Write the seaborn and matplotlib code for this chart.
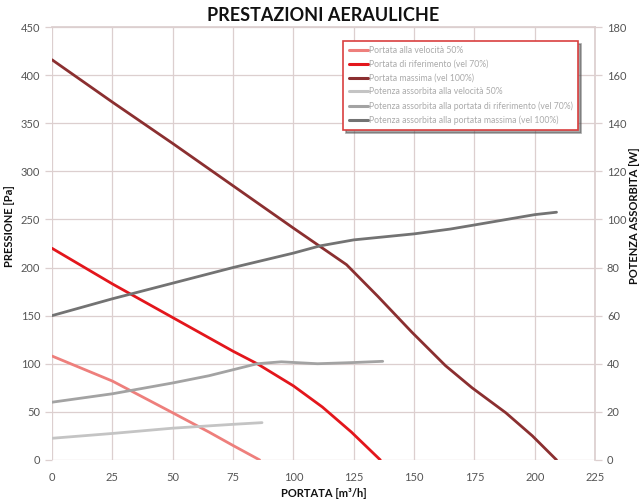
import matplotlib
matplotlib.use("Agg")
import matplotlib.pyplot as plt
import seaborn as sns
import pandas as pd
from matplotlib.lines import Line2D

sns.set_theme(style="white")
plt.rcParams['font.family'] = ['Lato', 'DejaVu Sans']

# --- Data (pressure curves, Pa, left axis) ---
p50_x = [0, 25, 50, 65, 75, 86]
p50_y = [108, 82, 49, 29, 15, 0]

p70_x = [0, 25, 50, 75, 85, 100, 112, 124, 136]
p70_y = [220, 183, 148, 113, 100, 77, 55, 29, 0]

p100_x = [0, 25, 50, 75, 100, 111, 122, 135, 149, 163, 174, 188, 199, 209]
p100_y = [416, 372, 329, 285, 241, 222, 203, 170, 133, 98, 75, 49, 25, 0]

# --- Data (power curves, W, right axis) ---
w50_x = [0, 25, 50, 75, 87]
w50_y = [9, 11, 13.2, 14.8, 15.5]

w70_x = [0, 25, 50, 65, 75, 85, 95, 110, 125, 137]
w70_y = [24, 27.5, 32, 35, 37.5, 40, 40.8, 40, 40.5, 41]

w100_x = [0, 25, 50, 75, 100, 111, 125, 150, 165, 175, 200, 209]
w100_y = [60, 67, 73.5, 80, 86, 89, 91.5, 94, 96, 97.7, 102, 103]

labels = [
    "Portata alla velocità 50%",
    "Portata di riferimento (vel 70%)",
    "Portata massima (vel 100%)",
    "Potenza assorbita alla velocità 50%",
    "Potenza assorbita alla portata di riferimento (vel 70%)",
    "Potenza assorbita alla portata massima (vel 100%)",
]
colors = ["#ee7f7c", "#e3161c", "#8b2f30", "#c4c4c4", "#a3a3a3", "#737373"]

x_ticks = [0, 25, 50, 75, 100, 125, 150, 175, 200, 225]
left_ticks = [0, 50, 100, 150, 200, 250, 300, 350, 400, 450]
right_ticks = [0, 20, 40, 60, 80, 100, 120, 140, 160, 180]

fig = plt.figure(figsize=(6.42, 5.01), dpi=100)
ax = fig.add_axes([0.081, 0.082, 0.846, 0.864])
ax2 = ax.twinx()

lw = 2.0
for xs, ys, c in [(p50_x, p50_y, colors[0]), (p70_x, p70_y, colors[1]), (p100_x, p100_y, colors[2])]:
    sns.lineplot(x=xs, y=ys, ax=ax, color=c, linewidth=lw, sort=False)
for xs, ys, c in [(w50_x, w50_y, colors[3]), (w70_x, w70_y, colors[4]), (w100_x, w100_y, colors[5])]:
    sns.lineplot(x=xs, y=ys, ax=ax2, color=c, linewidth=lw, sort=False)

ax.set_xlim(0, 225)
ax.set_ylim(0, 450)
ax2.set_ylim(0, 180)
ax.set_xticks(x_ticks)
ax.set_yticks(left_ticks)
ax2.set_yticks(right_ticks)

grid_c = "#dccfcf"
ax.grid(True, color=grid_c, linewidth=0.9)
ax.set_axisbelow(True)
for a in (ax, ax2):
    for s in a.spines.values():
        s.set_visible(False)
ax.spines['right'].set_visible(True)
ax.spines['right'].set_color(grid_c)
ax.spines['top'].set_visible(True)
ax.spines['top'].set_color(grid_c)

tick_kw = dict(labelsize=8, labelcolor="#555555", color=grid_c, length=5, width=0.9)
ax.tick_params(axis='both', **tick_kw)
ax2.tick_params(axis='y', **tick_kw)

ax.set_title("PRESTAZIONI AERAULICHE", fontsize=13, fontweight='bold', color="#111111", pad=4)
ax.set_xlabel("PORTATA [m³/h]", fontsize=8, fontweight='bold', color="#111111", labelpad=4)
ax.set_ylabel("PRESSIONE [Pa]", fontsize=8, fontweight='bold', color="#111111")
ax2.set_ylabel("POTENZA ASSORBITA [W]", fontsize=8, fontweight='bold', color="#111111")
ax.yaxis.set_label_coords(-0.068, 0.54)
ax2.yaxis.set_label_coords(1.062, 0.565)

handles = [Line2D([0], [0], color=c, linewidth=2.2) for c in colors]
leg = ax2.legend(handles, labels, loc='upper right', bbox_to_anchor=(0.977, 0.978),
                 fontsize=6.2, frameon=True, fancybox=False, shadow=True,
                 handlelength=2.2, handletextpad=0.2, labelspacing=0.55,
                 borderpad=0.6, labelcolor="#aaaaaa")
leg.get_frame().set_edgecolor("#d9403f")
leg.get_frame().set_linewidth(1.2)
leg.get_frame().set_facecolor("white")
leg.get_frame().set_alpha(1)

fig.savefig("out.png", dpi=100)
